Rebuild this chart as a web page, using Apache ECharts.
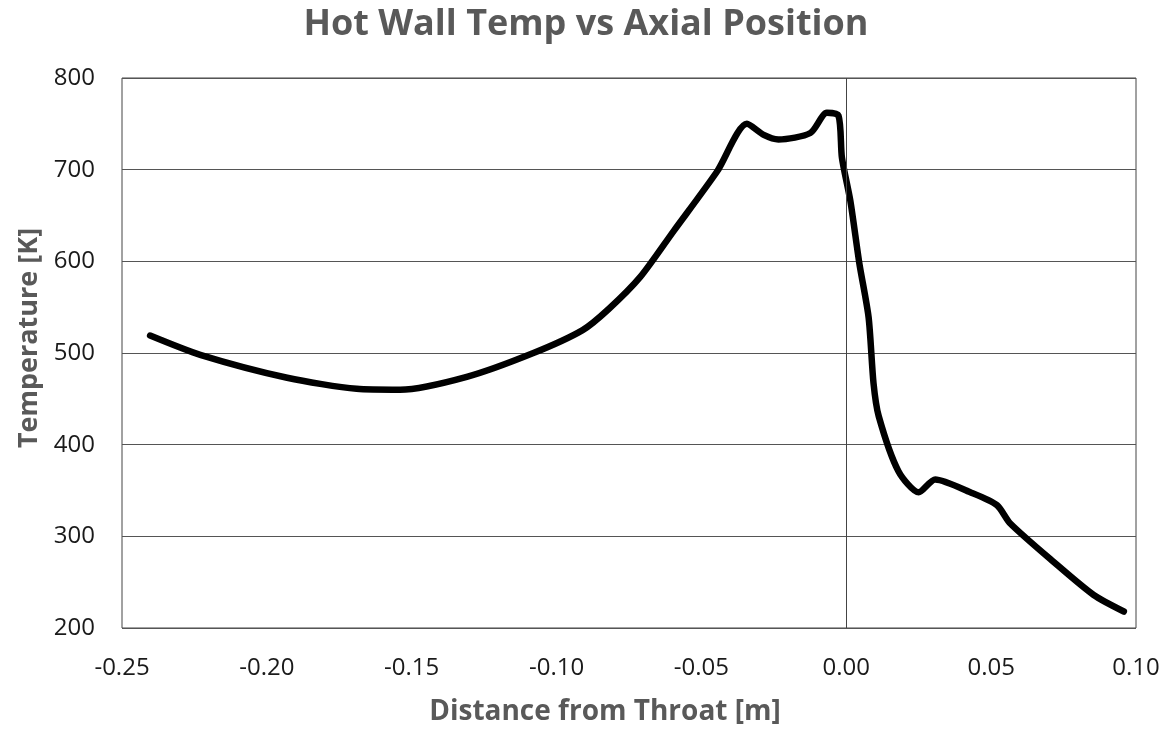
<!DOCTYPE html>
<html><head><meta charset="utf-8">
<script src="https://cdn.jsdelivr.net/npm/echarts@6/dist/echarts.min.js"></script>
<style>html,body{margin:0;padding:0;background:#fff}#c{width:1172px;height:731px}</style>
</head><body><div id="c"></div>
<script>
const titleText = "Hot Wall Temp vs Axial Position";
const xName = "Distance from Throat [m]";
const yName = "Temperature [K]";
const positions = [-0.2403,-0.223,-0.193,-0.169,-0.154,-0.131,-0.108,-0.091,-0.082,-0.0711,-0.0596,-0.0446,-0.0343,-0.0285,-0.0234,-0.0124,-0.0067,-0.0027,-0.0015,0.0014,0.0045,0.0077,0.0094,0.0112,0.018,0.025,0.0307,0.0428,0.052,0.0566,0.0716,0.0854,0.0958];
const temps = [519,498,473,461,460,474,500,525,548,583,633,698,750,738,733,740,762,759,713,666,598,539,467,431,371,348,362,348,334,314,272,236,218];
const xMin=-0.25, xMax=0.10, xStep=0.05;
const yMin=200, yMax=800, yStep=100;

const chart = echarts.init(document.getElementById('c'));
chart.setOption({
  animation:false,
  title:{text:titleText,left:'center',top:2,textStyle:{fontFamily:'Open Sans',fontWeight:'bold',fontSize:36,color:'#595959'}},
  grid:{left:122,right:36,top:78,bottom:101,show:true,borderColor:'#444',borderWidth:1},
  xAxis:{type:'value',min:xMin,max:xMax,interval:xStep,
    name:xName,nameLocation:'middle',nameGap:70,
    nameTextStyle:{fontFamily:'Open Sans',fontWeight:'bold',fontSize:28,color:'#595959',padding:[0,48,0,0]},
    axisLine:{show:false},axisTick:{show:false},splitLine:{show:false},
    axisLabel:{fontFamily:'Open Sans',fontSize:24,color:'#1a1a1a',margin:28,formatter:v=>v.toFixed(2)}},
  yAxis:{type:'value',min:yMin,max:yMax,interval:yStep,
    name:yName,nameLocation:'middle',nameGap:79,nameRotate:90,
    nameTextStyle:{fontFamily:'Open Sans',fontWeight:'bold',fontSize:27,color:'#595959',padding:[0,0,0,30]},
    axisLine:{show:false},axisTick:{show:false},
    splitLine:{lineStyle:{color:'#555',width:1}},
    axisLabel:{fontFamily:'Open Sans',fontSize:24,color:'#1a1a1a',margin:27}},
  series:[{type:'line',data:positions.map((x,i)=>[x,temps[i]]),showSymbol:false,smooth:0.25,
    lineStyle:{color:'#000',width:6.5,cap:'round',join:'round'},
    markLine:{silent:true,symbol:'none',label:{show:false},lineStyle:{color:'#444',width:1,type:'solid'},data:[{xAxis:0}]}}]
});
</script></body></html>
